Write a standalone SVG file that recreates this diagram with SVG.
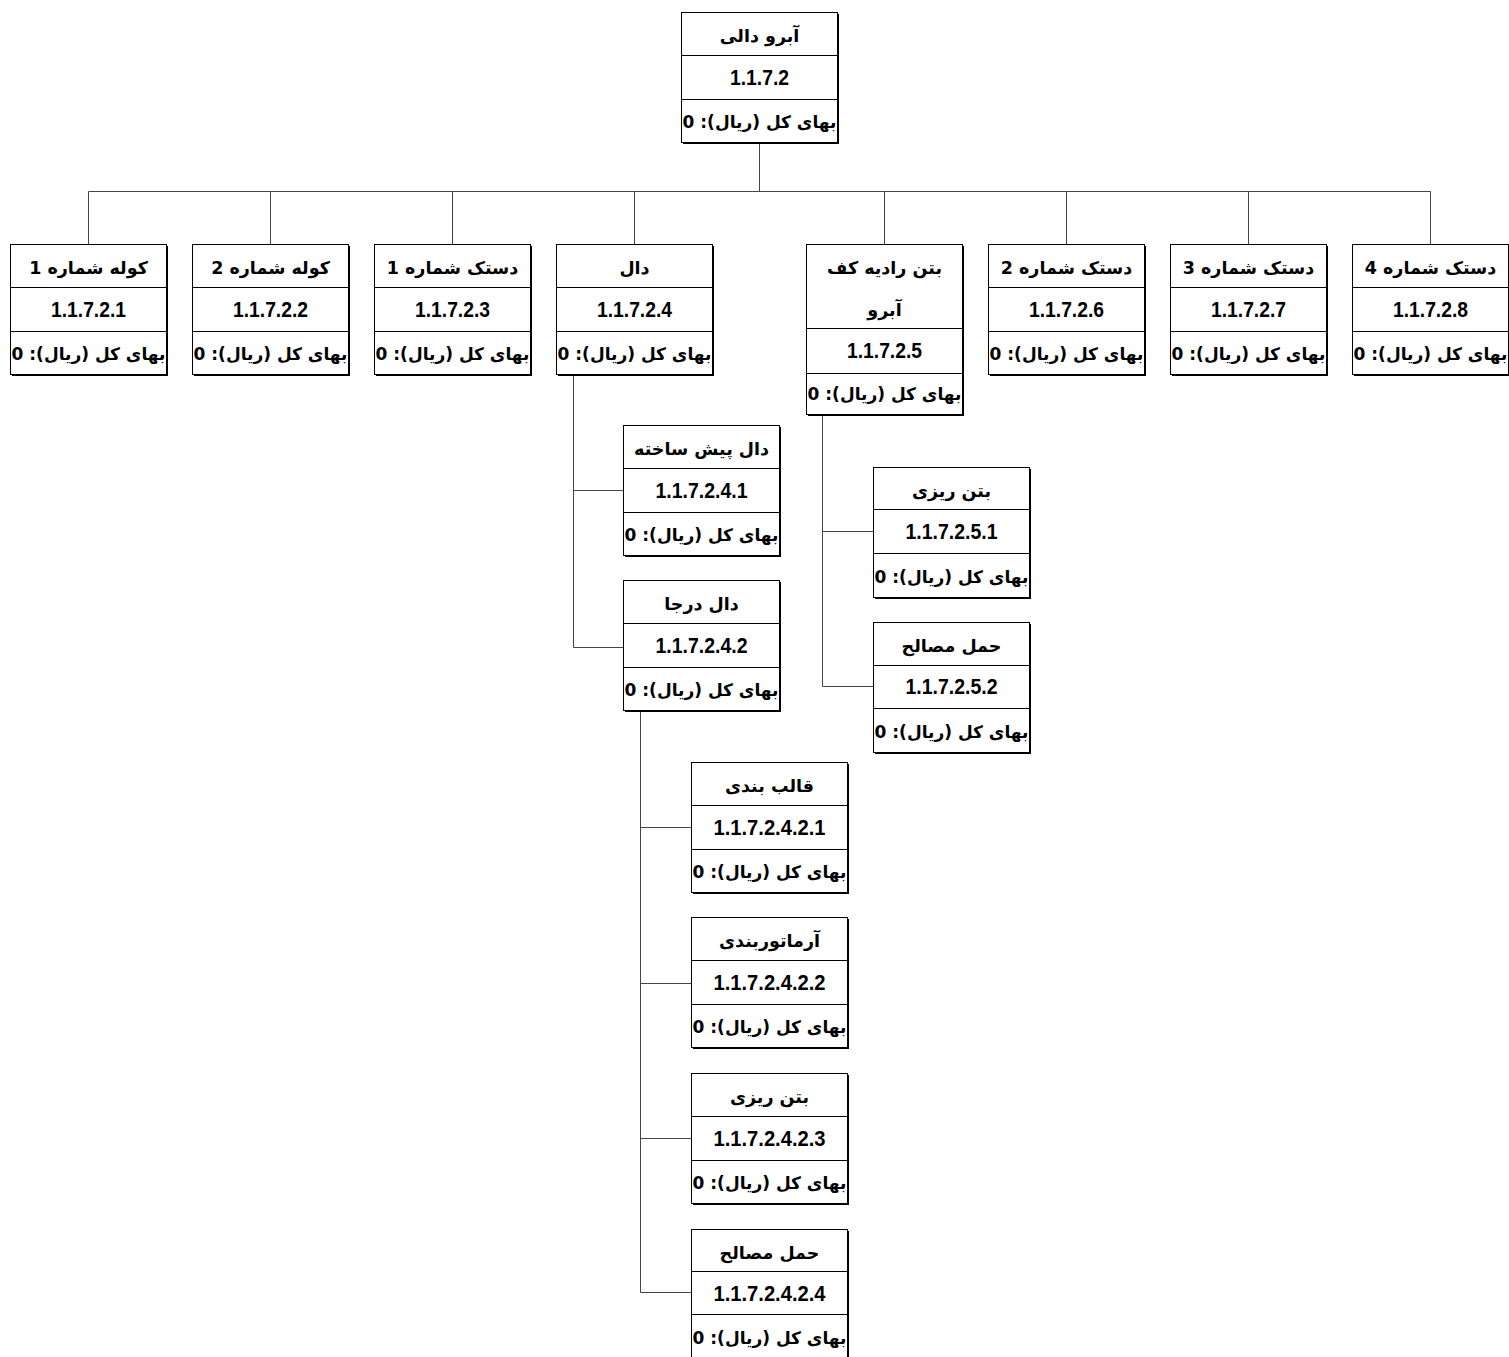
<svg xmlns="http://www.w3.org/2000/svg" width="1509" height="1357" viewBox="0 0 1509 1357">
<style>
.sh{fill:#000}
.bx{fill:#fff;stroke:#000;stroke-width:1}
.dv{stroke:#000;stroke-width:1}
.cn{fill:none;stroke:#444;stroke-width:1}
text{font-family:"DejaVu Sans","Noto Sans",sans-serif;font-weight:bold;fill:#000;text-anchor:middle}
.t{font-size:17.5px}
.c{font-family:"Liberation Sans",Arial,sans-serif;font-size:22px}
.p{font-size:17px;direction:rtl;unicode-bidi:embed}
</style>
<rect width="1509" height="1357" fill="#fff"/>
<g id="connectors">
<path class="cn" d="M759.5,142V191.5M88.5,191.5H1430.5M88.5,191.5V244M270.5,191.5V244M452.5,191.5V244M634.5,191.5V244M884.5,191.5V244M1066.5,191.5V244M1248.5,191.5V244M1430.5,191.5V244"/>
<path class="cn" d="M573.5,374V647.5M573.5,490.5H623M573.5,647.5H623"/>
<path class="cn" d="M822.5,414V686.5M822.5,531.5H873M822.5,686.5H873"/>
<path class="cn" d="M640.5,710V1292.5M640.5,827.5H691M640.5,983.5H691M640.5,1138.5H691M640.5,1292.5H691"/>
</g>
<g id="root"><rect class="sh" x="683" y="14" width="156" height="130"/><rect class="bx" x="681.5" y="12.5" width="156" height="130"/><line class="dv" x1="681.5" y1="55.5" x2="837.5" y2="55.5"/><line class="dv" x1="681.5" y1="99.5" x2="837.5" y2="99.5"/><text class="t" x="759.5" y="42">آبرو دالی</text><text class="c" x="759.5" y="85" textLength="59" lengthAdjust="spacingAndGlyphs">1.1.7.2</text><text class="p" x="759.5" y="128">بهای کل (ریال): 0</text></g>
<g id="n1"><rect class="sh" x="12" y="246" width="156" height="130"/><rect class="bx" x="10.5" y="244.5" width="156" height="130"/><line class="dv" x1="10.5" y1="287.5" x2="166.5" y2="287.5"/><line class="dv" x1="10.5" y1="331.5" x2="166.5" y2="331.5"/><text class="t" x="88.5" y="274">کوله شماره 1</text><text class="c" x="88.5" y="317" textLength="75" lengthAdjust="spacingAndGlyphs">1.1.7.2.1</text><text class="p" x="88.5" y="360">بهای کل (ریال): 0</text></g>
<g id="n2"><rect class="sh" x="194" y="246" width="156" height="130"/><rect class="bx" x="192.5" y="244.5" width="156" height="130"/><line class="dv" x1="192.5" y1="287.5" x2="348.5" y2="287.5"/><line class="dv" x1="192.5" y1="331.5" x2="348.5" y2="331.5"/><text class="t" x="270.5" y="274">کوله شماره 2</text><text class="c" x="270.5" y="317" textLength="75" lengthAdjust="spacingAndGlyphs">1.1.7.2.2</text><text class="p" x="270.5" y="360">بهای کل (ریال): 0</text></g>
<g id="n3"><rect class="sh" x="376" y="246" width="156" height="130"/><rect class="bx" x="374.5" y="244.5" width="156" height="130"/><line class="dv" x1="374.5" y1="287.5" x2="530.5" y2="287.5"/><line class="dv" x1="374.5" y1="331.5" x2="530.5" y2="331.5"/><text class="t" x="452.5" y="274">دستک شماره 1</text><text class="c" x="452.5" y="317" textLength="75" lengthAdjust="spacingAndGlyphs">1.1.7.2.3</text><text class="p" x="452.5" y="360">بهای کل (ریال): 0</text></g>
<g id="n4"><rect class="sh" x="558" y="246" width="156" height="130"/><rect class="bx" x="556.5" y="244.5" width="156" height="130"/><line class="dv" x1="556.5" y1="287.5" x2="712.5" y2="287.5"/><line class="dv" x1="556.5" y1="331.5" x2="712.5" y2="331.5"/><text class="t" x="634.5" y="274">دال</text><text class="c" x="634.5" y="317" textLength="75" lengthAdjust="spacingAndGlyphs">1.1.7.2.4</text><text class="p" x="634.5" y="360">بهای کل (ریال): 0</text></g>
<g id="n5"><rect class="sh" x="808" y="246" width="156" height="170"/><rect class="bx" x="806.5" y="244.5" width="156" height="170"/><line class="dv" x1="806.5" y1="328.5" x2="962.5" y2="328.5"/><line class="dv" x1="806.5" y1="373.5" x2="962.5" y2="373.5"/><text class="t" x="884.5" y="274">بتن رادیه کف</text><text class="t" x="884.5" y="316">آبرو</text><text class="c" x="884.5" y="358" textLength="75" lengthAdjust="spacingAndGlyphs">1.1.7.2.5</text><text class="p" x="884.5" y="400">بهای کل (ریال): 0</text></g>
<g id="n6"><rect class="sh" x="990" y="246" width="156" height="130"/><rect class="bx" x="988.5" y="244.5" width="156" height="130"/><line class="dv" x1="988.5" y1="287.5" x2="1144.5" y2="287.5"/><line class="dv" x1="988.5" y1="331.5" x2="1144.5" y2="331.5"/><text class="t" x="1066.5" y="274">دستک شماره 2</text><text class="c" x="1066.5" y="317" textLength="75" lengthAdjust="spacingAndGlyphs">1.1.7.2.6</text><text class="p" x="1066.5" y="360">بهای کل (ریال): 0</text></g>
<g id="n7"><rect class="sh" x="1172" y="246" width="156" height="130"/><rect class="bx" x="1170.5" y="244.5" width="156" height="130"/><line class="dv" x1="1170.5" y1="287.5" x2="1326.5" y2="287.5"/><line class="dv" x1="1170.5" y1="331.5" x2="1326.5" y2="331.5"/><text class="t" x="1248.5" y="274">دستک شماره 3</text><text class="c" x="1248.5" y="317" textLength="75" lengthAdjust="spacingAndGlyphs">1.1.7.2.7</text><text class="p" x="1248.5" y="360">بهای کل (ریال): 0</text></g>
<g id="n8"><rect class="sh" x="1354" y="246" width="156" height="130"/><rect class="bx" x="1352.5" y="244.5" width="156" height="130"/><line class="dv" x1="1352.5" y1="287.5" x2="1508.5" y2="287.5"/><line class="dv" x1="1352.5" y1="331.5" x2="1508.5" y2="331.5"/><text class="t" x="1430.5" y="274">دستک شماره 4</text><text class="c" x="1430.5" y="317" textLength="75" lengthAdjust="spacingAndGlyphs">1.1.7.2.8</text><text class="p" x="1430.5" y="360">بهای کل (ریال): 0</text></g>
<g id="n41"><rect class="sh" x="625" y="427" width="156" height="130"/><rect class="bx" x="623.5" y="425.5" width="156" height="130"/><line class="dv" x1="623.5" y1="468.5" x2="779.5" y2="468.5"/><line class="dv" x1="623.5" y1="512.5" x2="779.5" y2="512.5"/><text class="t" x="701.5" y="455">دال پیش ساخته</text><text class="c" x="701.5" y="498" textLength="92" lengthAdjust="spacingAndGlyphs">1.1.7.2.4.1</text><text class="p" x="701.5" y="541">بهای کل (ریال): 0</text></g>
<g id="n42"><rect class="sh" x="625" y="582" width="156" height="130"/><rect class="bx" x="623.5" y="580.5" width="156" height="130"/><line class="dv" x1="623.5" y1="623.5" x2="779.5" y2="623.5"/><line class="dv" x1="623.5" y1="667.5" x2="779.5" y2="667.5"/><text class="t" x="701.5" y="610">دال درجا</text><text class="c" x="701.5" y="653" textLength="92" lengthAdjust="spacingAndGlyphs">1.1.7.2.4.2</text><text class="p" x="701.5" y="696">بهای کل (ریال): 0</text></g>
<g id="n51"><rect class="sh" x="875" y="469" width="156" height="130"/><rect class="bx" x="873.5" y="467.5" width="156" height="130"/><line class="dv" x1="873.5" y1="509.5" x2="1029.5" y2="509.5"/><line class="dv" x1="873.5" y1="553.5" x2="1029.5" y2="553.5"/><text class="t" x="951.5" y="497">بتن ریزی</text><text class="c" x="951.5" y="539" textLength="92" lengthAdjust="spacingAndGlyphs">1.1.7.2.5.1</text><text class="p" x="951.5" y="583">بهای کل (ریال): 0</text></g>
<g id="n52"><rect class="sh" x="875" y="624" width="156" height="130"/><rect class="bx" x="873.5" y="622.5" width="156" height="130"/><line class="dv" x1="873.5" y1="665.5" x2="1029.5" y2="665.5"/><line class="dv" x1="873.5" y1="708.5" x2="1029.5" y2="708.5"/><text class="t" x="951.5" y="652">حمل مصالح</text><text class="c" x="951.5" y="694" textLength="92" lengthAdjust="spacingAndGlyphs">1.1.7.2.5.2</text><text class="p" x="951.5" y="738">بهای کل (ریال): 0</text></g>
<g id="n421"><rect class="sh" x="693" y="764" width="156" height="130"/><rect class="bx" x="691.5" y="762.5" width="156" height="130"/><line class="dv" x1="691.5" y1="805.5" x2="847.5" y2="805.5"/><line class="dv" x1="691.5" y1="849.5" x2="847.5" y2="849.5"/><text class="t" x="769.5" y="792">قالب بندی</text><text class="c" x="769.5" y="835" textLength="112" lengthAdjust="spacingAndGlyphs">1.1.7.2.4.2.1</text><text class="p" x="769.5" y="878">بهای کل (ریال): 0</text></g>
<g id="n422"><rect class="sh" x="693" y="919" width="156" height="130"/><rect class="bx" x="691.5" y="917.5" width="156" height="130"/><line class="dv" x1="691.5" y1="960.5" x2="847.5" y2="960.5"/><line class="dv" x1="691.5" y1="1004.5" x2="847.5" y2="1004.5"/><text class="t" x="769.5" y="947">آرماتوربندی</text><text class="c" x="769.5" y="990" textLength="112" lengthAdjust="spacingAndGlyphs">1.1.7.2.4.2.2</text><text class="p" x="769.5" y="1033">بهای کل (ریال): 0</text></g>
<g id="n423"><rect class="sh" x="693" y="1075" width="156" height="130"/><rect class="bx" x="691.5" y="1073.5" width="156" height="130"/><line class="dv" x1="691.5" y1="1116.5" x2="847.5" y2="1116.5"/><line class="dv" x1="691.5" y1="1160.5" x2="847.5" y2="1160.5"/><text class="t" x="769.5" y="1103">بتن ریزی</text><text class="c" x="769.5" y="1146" textLength="112" lengthAdjust="spacingAndGlyphs">1.1.7.2.4.2.3</text><text class="p" x="769.5" y="1189">بهای کل (ریال): 0</text></g>
<g id="n424"><rect class="sh" x="693" y="1231" width="156" height="130"/><rect class="bx" x="691.5" y="1229.5" width="156" height="130"/><line class="dv" x1="691.5" y1="1271.5" x2="847.5" y2="1271.5"/><line class="dv" x1="691.5" y1="1314.5" x2="847.5" y2="1314.5"/><text class="t" x="769.5" y="1259">حمل مصالح</text><text class="c" x="769.5" y="1301" textLength="112" lengthAdjust="spacingAndGlyphs">1.1.7.2.4.2.4</text><text class="p" x="769.5" y="1344">بهای کل (ریال): 0</text></g>
</svg>
